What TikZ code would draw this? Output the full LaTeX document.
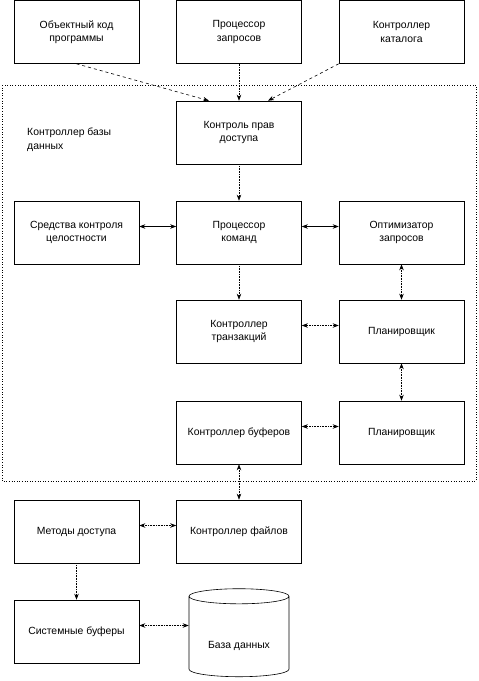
\documentclass[tikz,border=0pt]{standalone}
\usepackage{fontspec}
\setmainfont{Liberation Sans}
\usetikzlibrary{positioning,arrows.meta,shapes.geometric}

\begin{document}
\begin{tikzpicture}[x=1pt,y=-1pt,>={Stealth[length=6pt,width=4.5pt]}]
  \tikzset{
    blk/.style={rectangle,draw=black,line width=0.6pt,minimum width=125pt,minimum height=63pt,
                inner sep=2pt,align=center,font=\fontsize{10.4}{13.3}\selectfont},
    db/.style={cylinder,shape border rotate=90,draw=black,line width=0.6pt,aspect=0.22,
               minimum width=100pt,minimum height=88pt,text height=22pt,text depth=2pt,
               font=\fontsize{10.4}{13.3}\selectfont},
    arr/.style={->,line width=0.6pt,densely dotted}, dbl/.style={<->,line width=0.6pt,densely dotted},
    sol/.style={<->,line width=0.6pt}}
  \useasboundingbox (0,0) rectangle (479,681);
  % outer frame of the DBMS
  \draw[dotted,line width=0.6pt] (2,85) rectangle (476,481);
  \node[anchor=north west,inner sep=0pt,align=left,font=\fontsize{10.4}{13.3}\selectfont]
    (kbd) at (27,128) {Контроллер базы\\данных};
  % top row
  \node[blk] (okp) at (76.5,32) {Объектный код\\программы};
  \node[blk] (pz) at (239,32) {Процессор\\запросов};
  \node[blk] (kk) at (401.5,32) {Контроллер\\каталога};
  % inside the frame
  \node[blk] (kpd) at (239,132.5) {Контроль прав\\доступа};
  \node[blk] (skc) at (76.5,232.5) {Средства контроля\\целостности};
  \node[blk] (pk) at (239,232.5) {Процессор\\команд};
  \node[blk] (oz) at (401.5,232.5) {Оптимизатор\\запросов};
  \node[blk] (kt) at (239,331.5) {Контроллер\\транзакций};
  \node[blk] (pl1) at (401.5,331.5) {Планировщик};
  \node[blk] (kb) at (239,432.5) {Контроллер буферов};
  \node[blk] (pl2) at (401.5,432.5) {Планировщик};
  % below the frame
  \node[blk] (md) at (76.5,531.5) {Методы доступа};
  \node[blk] (kf) at (239,531.5) {Контроллер файлов};
  \node[blk] (sb) at (76.5,631.5) {Системные буферы};
  \node[db] (bd) at (239,638) {База данных};
  % connectors
  \draw[arr,dashed] (okp.south) -- ([xshift=-30pt]kpd.north);
  \draw[arr] (pz.south) -- (kpd.north);
  \draw[arr,dashed] (kk.south west) -- ([xshift=29pt]kpd.north);
  \draw[arr] (kpd) -- (pk);
  \draw[sol] ([yshift=6pt]pk.west) -- ([yshift=6pt]skc.east);
  \draw[sol] ([yshift=6pt]pk.east) -- ([yshift=6pt]oz.west);
  \draw[arr] (pk) -- (kt);
  \draw[dbl] (oz) -- (pl1);
  \draw[dbl] ([yshift=6pt]kt.east) -- ([yshift=6pt]pl1.west);
  \draw[dbl] (pl1) -- (pl2);
  \draw[dbl] ([yshift=6pt]kb.east) -- ([yshift=6pt]pl2.west);
  \draw[dbl] (kb) -- (kf);
  \draw[dbl] ([yshift=6pt]md.east) -- ([yshift=6pt]kf.west);
  \draw[arr] (md) -- (sb);
  \draw[dbl] ([yshift=6pt]sb.east) -- ([yshift=6pt]sb.east -| bd.west);
\end{tikzpicture}
\end{document}
